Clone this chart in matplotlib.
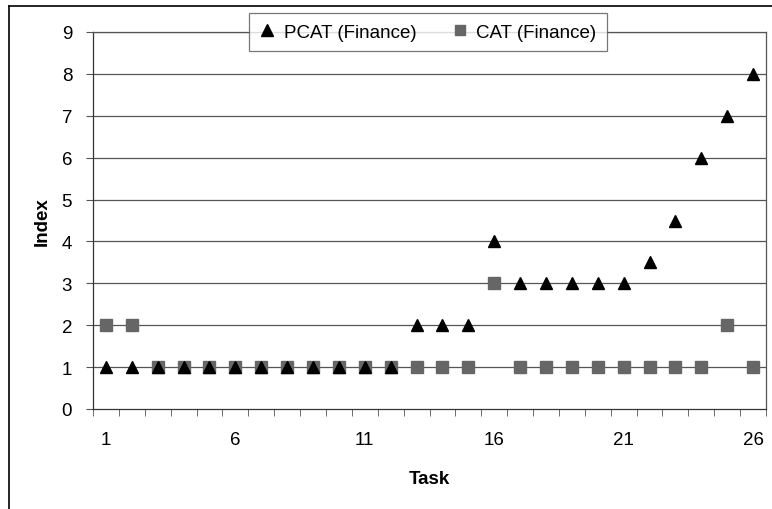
import matplotlib
matplotlib.use("Agg")
import matplotlib.pyplot as plt
from matplotlib.lines import Line2D

plt.rcParams['font.family'] = ['Liberation Sans', 'DejaVu Sans']

tasks = list(range(1, 27))
pcat = [1, 1, 1, 1, 1, 1, 1, 1, 1, 1, 1, 1, 2, 2, 2, 4, 3, 3, 3, 3, 3, 3.5, 4.5, 6, 7, 8]
cat = [2, 2, 1, 1, 1, 1, 1, 1, 1, 1, 1, 1, 1, 1, 1, 3, 1, 1, 1, 1, 1, 1, 1, 1, 2, 1]
xtick_labels = [1, 6, 11, 16, 21, 26]
yticks = list(range(0, 10))

fig = plt.figure(figsize=(7.72, 5.10), dpi=100)
# outer chart frame (top and left visible)
fig.add_artist(Line2D([9/772, 9/772], [0, 1 - 7/510], color='black', lw=1.2))
fig.add_artist(Line2D([9/772, 1], [1 - 7/510, 1 - 7/510], color='black', lw=1.2))

ax = fig.add_axes([93/772, 1 - 410/510, (766 - 93)/772, (410 - 33)/510])

gridc = '#555555'
for y in yticks[1:]:
    ax.axhline(y, color=gridc, lw=0.9, zorder=1)

ax.plot(tasks, cat, linestyle='none', marker='s', color='#666666', markersize=8,
        label='CAT (Finance)', zorder=3)
ax.plot(tasks, pcat, linestyle='none', marker='^', color='black', markersize=9,
        label='PCAT (Finance)', zorder=4)

ax.set_xlim(0.5, 26.5)
ax.set_ylim(0, 9)
ax.set_yticks(yticks)
ax.set_xticks(xtick_labels)
ax.set_xticklabels([str(v) for v in xtick_labels])
ax.tick_params(axis='x', which='major', length=0, pad=16, labelsize=13.5)
ax.set_xticks([i + 0.5 for i in range(0, 27)], minor=True)
ax.tick_params(axis='x', which='minor', length=5, direction='out', color=gridc)
ax.tick_params(axis='y', length=5, direction='out', color=gridc, labelsize=13.5, pad=10)

for side in ['left', 'right', 'top', 'bottom']:
    ax.spines[side].set_color(gridc)
    ax.spines[side].set_linewidth(0.9)
ax.spines['left'].set_color('#333333')
ax.spines['bottom'].set_color('#333333')

ax.set_xlabel('Task', fontweight='bold', fontsize=13.5, labelpad=16)
ax.set_ylabel('Index', fontweight='bold', fontsize=13.5, labelpad=8)

handles = [Line2D([], [], linestyle='none', marker='^', color='black', markersize=8),
           Line2D([], [], linestyle='none', marker='s', color='#666666', markersize=7)]
leg = fig.legend(handles, ['PCAT (Finance)', 'CAT (Finance)'], loc='center',
                 bbox_to_anchor=(428/772, 1 - 33/510), ncol=2, frameon=True,
                 fancybox=False, edgecolor=gridc, fontsize=13.5, handlelength=0.8,
                 handletextpad=0.5, columnspacing=1.9, borderpad=0.55, borderaxespad=0)
leg.get_frame().set_linewidth(0.9)

fig.savefig('out.png', dpi=100)
